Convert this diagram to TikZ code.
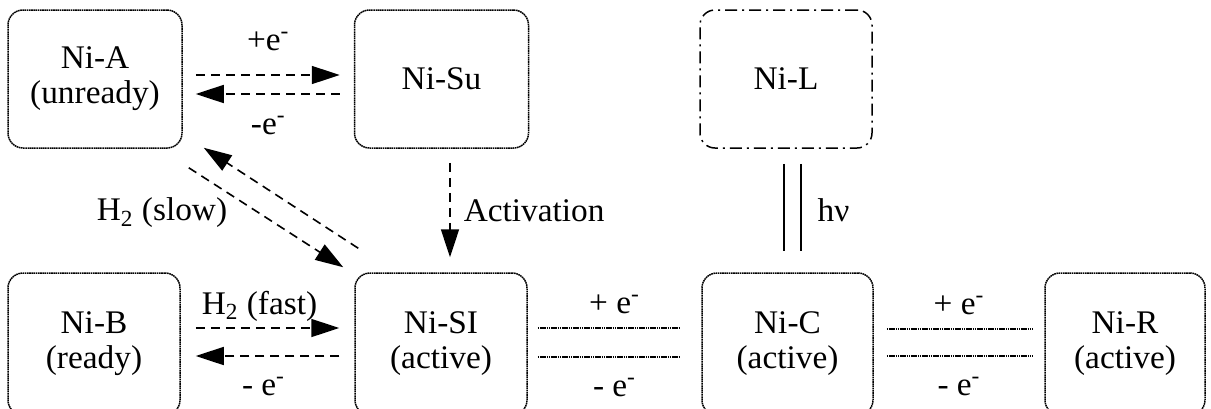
\documentclass[tikz,border=0pt]{standalone}
\usepackage{fontspec}
\setmainfont{Liberation Serif}[FakeStretch = 1.01]
\usetikzlibrary{arrows.meta, calc}

\tikzset{
    state/.style = {draw, rectangle, rounded corners = 7.5pt, line width = 0.75pt, dash pattern = on 0.8pt off 0.3pt, align = center, minimum width = 87pt, minimum height = 69pt, font = \fontsize{16.5}{17.5}\selectfont},
    lightstate/.style = {state, dash pattern = on 6pt off 2.5pt on 1pt off 2.5pt},
    dasharrow/.style = {-{Triangle[length = 14pt, width = 9pt]}, line width = 0.8pt, dash pattern = on 4.5pt off 3pt},
    redox/.style = {line width = 0.7pt, dash pattern = on 0.8pt off 0.3pt},
    photo/.style = {line width = 0.7pt},
    lbl/.style = {font = \fontsize{16.5}{17.5}\selectfont, inner sep = 2pt}
}

\begin{document}
\begin{tikzpicture}[x = 0.5pt, y = -0.5pt]
        \useasboundingbox (0, 0) rectangle (1211, 408);

        % Upper row
        \node [state] (nia) at (95, 79) {Ni-A\\(unready)};
        \node [state] (nisu) at (441.5, 79) {Ni-Su};
        \node [lightstate, minimum width = 86pt] (nil) at (786, 79) {Ni-L};

        % Lower row
        \node [state, minimum width = 86pt, minimum height = 71pt] (nib) at (94, 344) {Ni-B\\(ready)};
        \node [state, minimum width = 86pt, minimum height = 71pt] (nisi) at (441, 344) {Ni-SI\\(active)};
        \node [state, minimum width = 85.5pt, minimum height = 71pt] (nic) at (787.5, 344) {Ni-C\\(active)};
        \node [state, minimum width = 80pt, minimum height = 71pt] (nir) at (1125, 344) {Ni-R\\(active)};

        % Ni-A and Ni-Su
        \draw [dasharrow, shorten <= 6.5pt, shorten >= 7pt] (nia.east |- 0, 75) -- (nisu.west |- 0, 75) node [lbl, midway, above = 9.5pt] {+e\textsuperscript{-}};
        \draw [dasharrow, shorten <= 7pt, shorten >= 6.5pt] (nisu.west |- 0, 94) -- (nia.east |- 0, 94) node [lbl, midway, below = 8.5pt] {-e\textsuperscript{-}};

        % Ni-A and Ni-SI
        \draw [dasharrow] ($(nisi.north west) + (4, -24)$) -- ($(nia.south east) + (21, -1)$);
        \draw [dasharrow] ($(nia.south east) + (6, 19)$) -- ($(nisi.north west) + (-11, -5)$);
        \node [lbl] (slow) at (162, 213) {H\textsubscript{2} (slow)};

        % Ni-Su and Ni-SI
        \draw [dasharrow, shorten <= 7pt, shorten >= 7.5pt] (nisu.south -| 450, 0) -- (nisi.north -| 450, 0) node [lbl, midway, right = 4.5pt] {Activation};

        % Ni-B and Ni-SI
        \draw [dasharrow, shorten <= 7.5pt, shorten >= 7.5pt] (nib.east |- 0, 328) -- (nisi.west |- 0, 328) node [lbl, midway, above = 1pt, xshift = -4pt] {H\textsubscript{2} (fast)};
        \draw [dasharrow, shorten <= 7.5pt, shorten >= 7.5pt] (nisi.west |- 0, 356) -- (nib.east |- 0, 356) node [lbl, midway, below = 8pt, xshift = -2pt] {- e\textsuperscript{-}};

        % Ni-SI and Ni-C
        \draw [redox, shorten <= 5pt, shorten >= 11pt] (nisi.east |- 0, 328) -- (nic.west |- 0, 328) node [lbl, midway, above = 4.5pt] {+ e\textsuperscript{-}};
        \draw [redox, shorten <= 5pt, shorten >= 11pt] (nisi.east |- 0, 357) -- (nic.west |- 0, 357) node [lbl, midway, below = 8pt] {- e\textsuperscript{-}};

        % Ni-C and Ni-R
        \draw [redox, shorten <= 6.5pt, shorten >= 5.5pt] (nic.east |- 0, 329) -- (nir.west |- 0, 329) node [lbl, midway, above = 4.5pt] {+ e\textsuperscript{-}};
        \draw [redox, shorten <= 6.5pt, shorten >= 5.5pt] (nic.east |- 0, 356) -- (nir.west |- 0, 356) node [lbl, midway, below = 8pt] {- e\textsuperscript{-}};

        % Ni-L and Ni-C
        \draw [photo, shorten <= 7.5pt, shorten >= 10.5pt] (nil.south -| 784, 0) -- (nic.north -| 784, 0);
        \draw [photo, shorten <= 7.5pt, shorten >= 10.5pt] (nil.south -| 801, 0) -- (nic.north -| 801, 0) node [lbl, midway, right = 6pt] {hν};

\end{tikzpicture}
\end{document}
